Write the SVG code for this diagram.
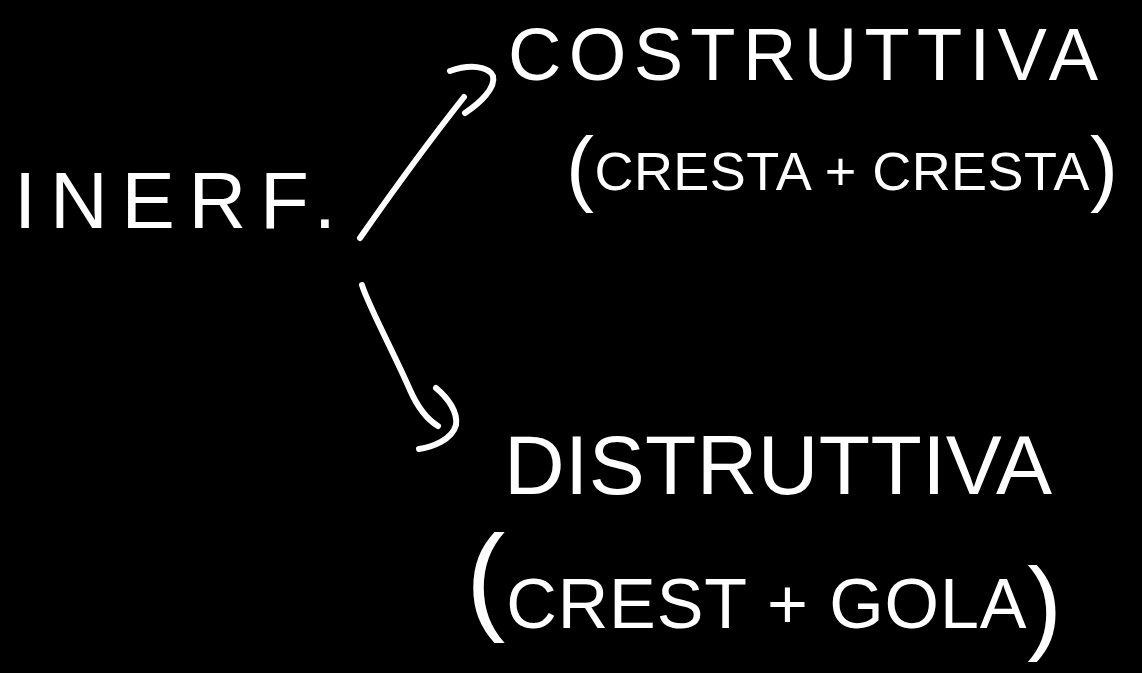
<svg xmlns="http://www.w3.org/2000/svg" width="1142" height="673" viewBox="0 0 1142 673">
  <style>
    .bg { fill: #000000; }
    .hand { font-family: "Liberation Sans", "DejaVu Sans", sans-serif; fill: #ffffff; }
    .ink { fill: none; stroke: #ffffff; stroke-width: 6; stroke-linecap: round; stroke-linejoin: round; }
  </style>
  <rect class="bg" x="0" y="0" width="1142" height="673"/>

  <g id="node-inerf">
    <text class="hand" x="14" y="228" font-size="80" textLength="322" lengthAdjust="spacing">INERF.</text>
  </g>

  <g id="node-costruttiva">
    <text class="hand" x="508" y="80" font-size="74" textLength="590" lengthAdjust="spacing">COSTRUTTIVA</text>
    <text class="hand" x="566" y="190" font-size="54" textLength="552" lengthAdjust="spacing"><tspan font-size="84" dy="6">(</tspan><tspan dy="-6">CRESTA + CRESTA</tspan><tspan font-size="84" dy="6">)</tspan></text>
  </g>

  <g id="node-distruttiva">
    <text class="hand" x="504" y="494" font-size="84" textLength="548" lengthAdjust="spacing">DISTRUTTIVA</text>
    <text class="hand" x="466" y="628" font-size="70" textLength="596" lengthAdjust="spacing"><tspan font-size="118" dy="-10">(</tspan><tspan dy="10">CREST + GOLA</tspan><tspan font-size="104" dy="12">)</tspan></text>
  </g>

  <g id="connectors">
    <!-- upper arrow -->
    <path class="ink" d="M360 238 C 390 195, 430 140, 464 97"/>
    <path class="ink" d="M450 71 C 470 64, 488 66, 493 76 C 496 88, 480 103, 465 113"/>
    <!-- lower arrow -->
    <path class="ink" d="M362 285 C 368 305, 395 355, 410 390 C 418 408, 428 420, 438 426"/>
    <path class="ink" d="M436 388 C 448 398, 458 412, 456 425 C 452 440, 432 447, 419 449"/>
  </g>
</svg>
